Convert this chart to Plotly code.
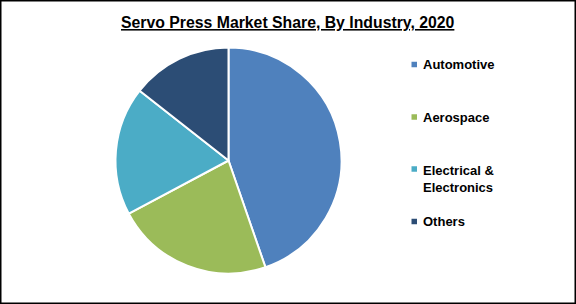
import plotly.graph_objects as go

# Data
industries = ["Automotive", "Aerospace", "Electrical & Electronics", "Others"]
legend_labels = ["Automotive", "Aerospace", "Electrical &<br>Electronics", "Others"]
shares = [44.7, 22.5, 18.4, 14.4]
colors = ["#4F81BD", "#9BBB59", "#4BACC6", "#2C4D75"]

W, H = 576, 304
cx, cy, r = 228.5, 160.5, 113

fig = go.Figure(go.Pie(
    labels=industries,
    values=shares,
    sort=False,
    direction="clockwise",
    rotation=0,
    marker=dict(colors=colors, line=dict(color="white", width=2)),
    textinfo="none",
    hoverinfo="label+percent",
    showlegend=False,
    domain=dict(x=[(cx - r) / W, (cx + r) / W], y=[1 - (cy + r) / H, 1 - (cy - r) / H]),
))

font_family = "Liberation Sans, Arial, sans-serif"

# Custom legend (text + square markers)
legend_y = [64.5, 117, 178.5, 221.5]
marker_y = [64.5, 117, 169, 221.5]
annotations = [dict(
    text="<b>Servo Press Market Share, By Industry, 2020</b>",
    x=0.5, y=1 - 22 / H, xref="paper", yref="paper",
    xanchor="center", yanchor="middle", showarrow=False,
    font=dict(family=font_family, size=15.8, color="black", lineposition="under"),
)]
shapes = []
for lab, col, ly, my in zip(legend_labels, colors, legend_y, marker_y):
    annotations.append(dict(
        text="<b>" + lab + "</b>", x=421 / W, y=1 - ly / H, xref="paper", yref="paper",
        xanchor="left", yanchor="middle", align="left", showarrow=False,
        font=dict(family=font_family, size=13, color="black"),
    ))
    shapes.append(dict(
        type="rect", xref="paper", yref="paper",
        x0=411.5 / W, x1=417 / W, y0=1 - (my + 2.75) / H, y1=1 - (my - 2.75) / H,
        fillcolor=col, line=dict(width=0),
    ))

# Outer border
shapes.append(dict(type="rect", xref="paper", yref="paper", x0=0, x1=1, y0=0, y1=1,
                   line=dict(color="black", width=3), fillcolor="rgba(0,0,0,0)"))

fig.update_layout(
    width=W, height=H,
    margin=dict(l=0, r=0, t=0, b=0),
    paper_bgcolor="white", plot_bgcolor="white",
    annotations=annotations, shapes=shapes,
    showlegend=False,
)

fig.write_html("out.html", config={"displayModeBar": False})
